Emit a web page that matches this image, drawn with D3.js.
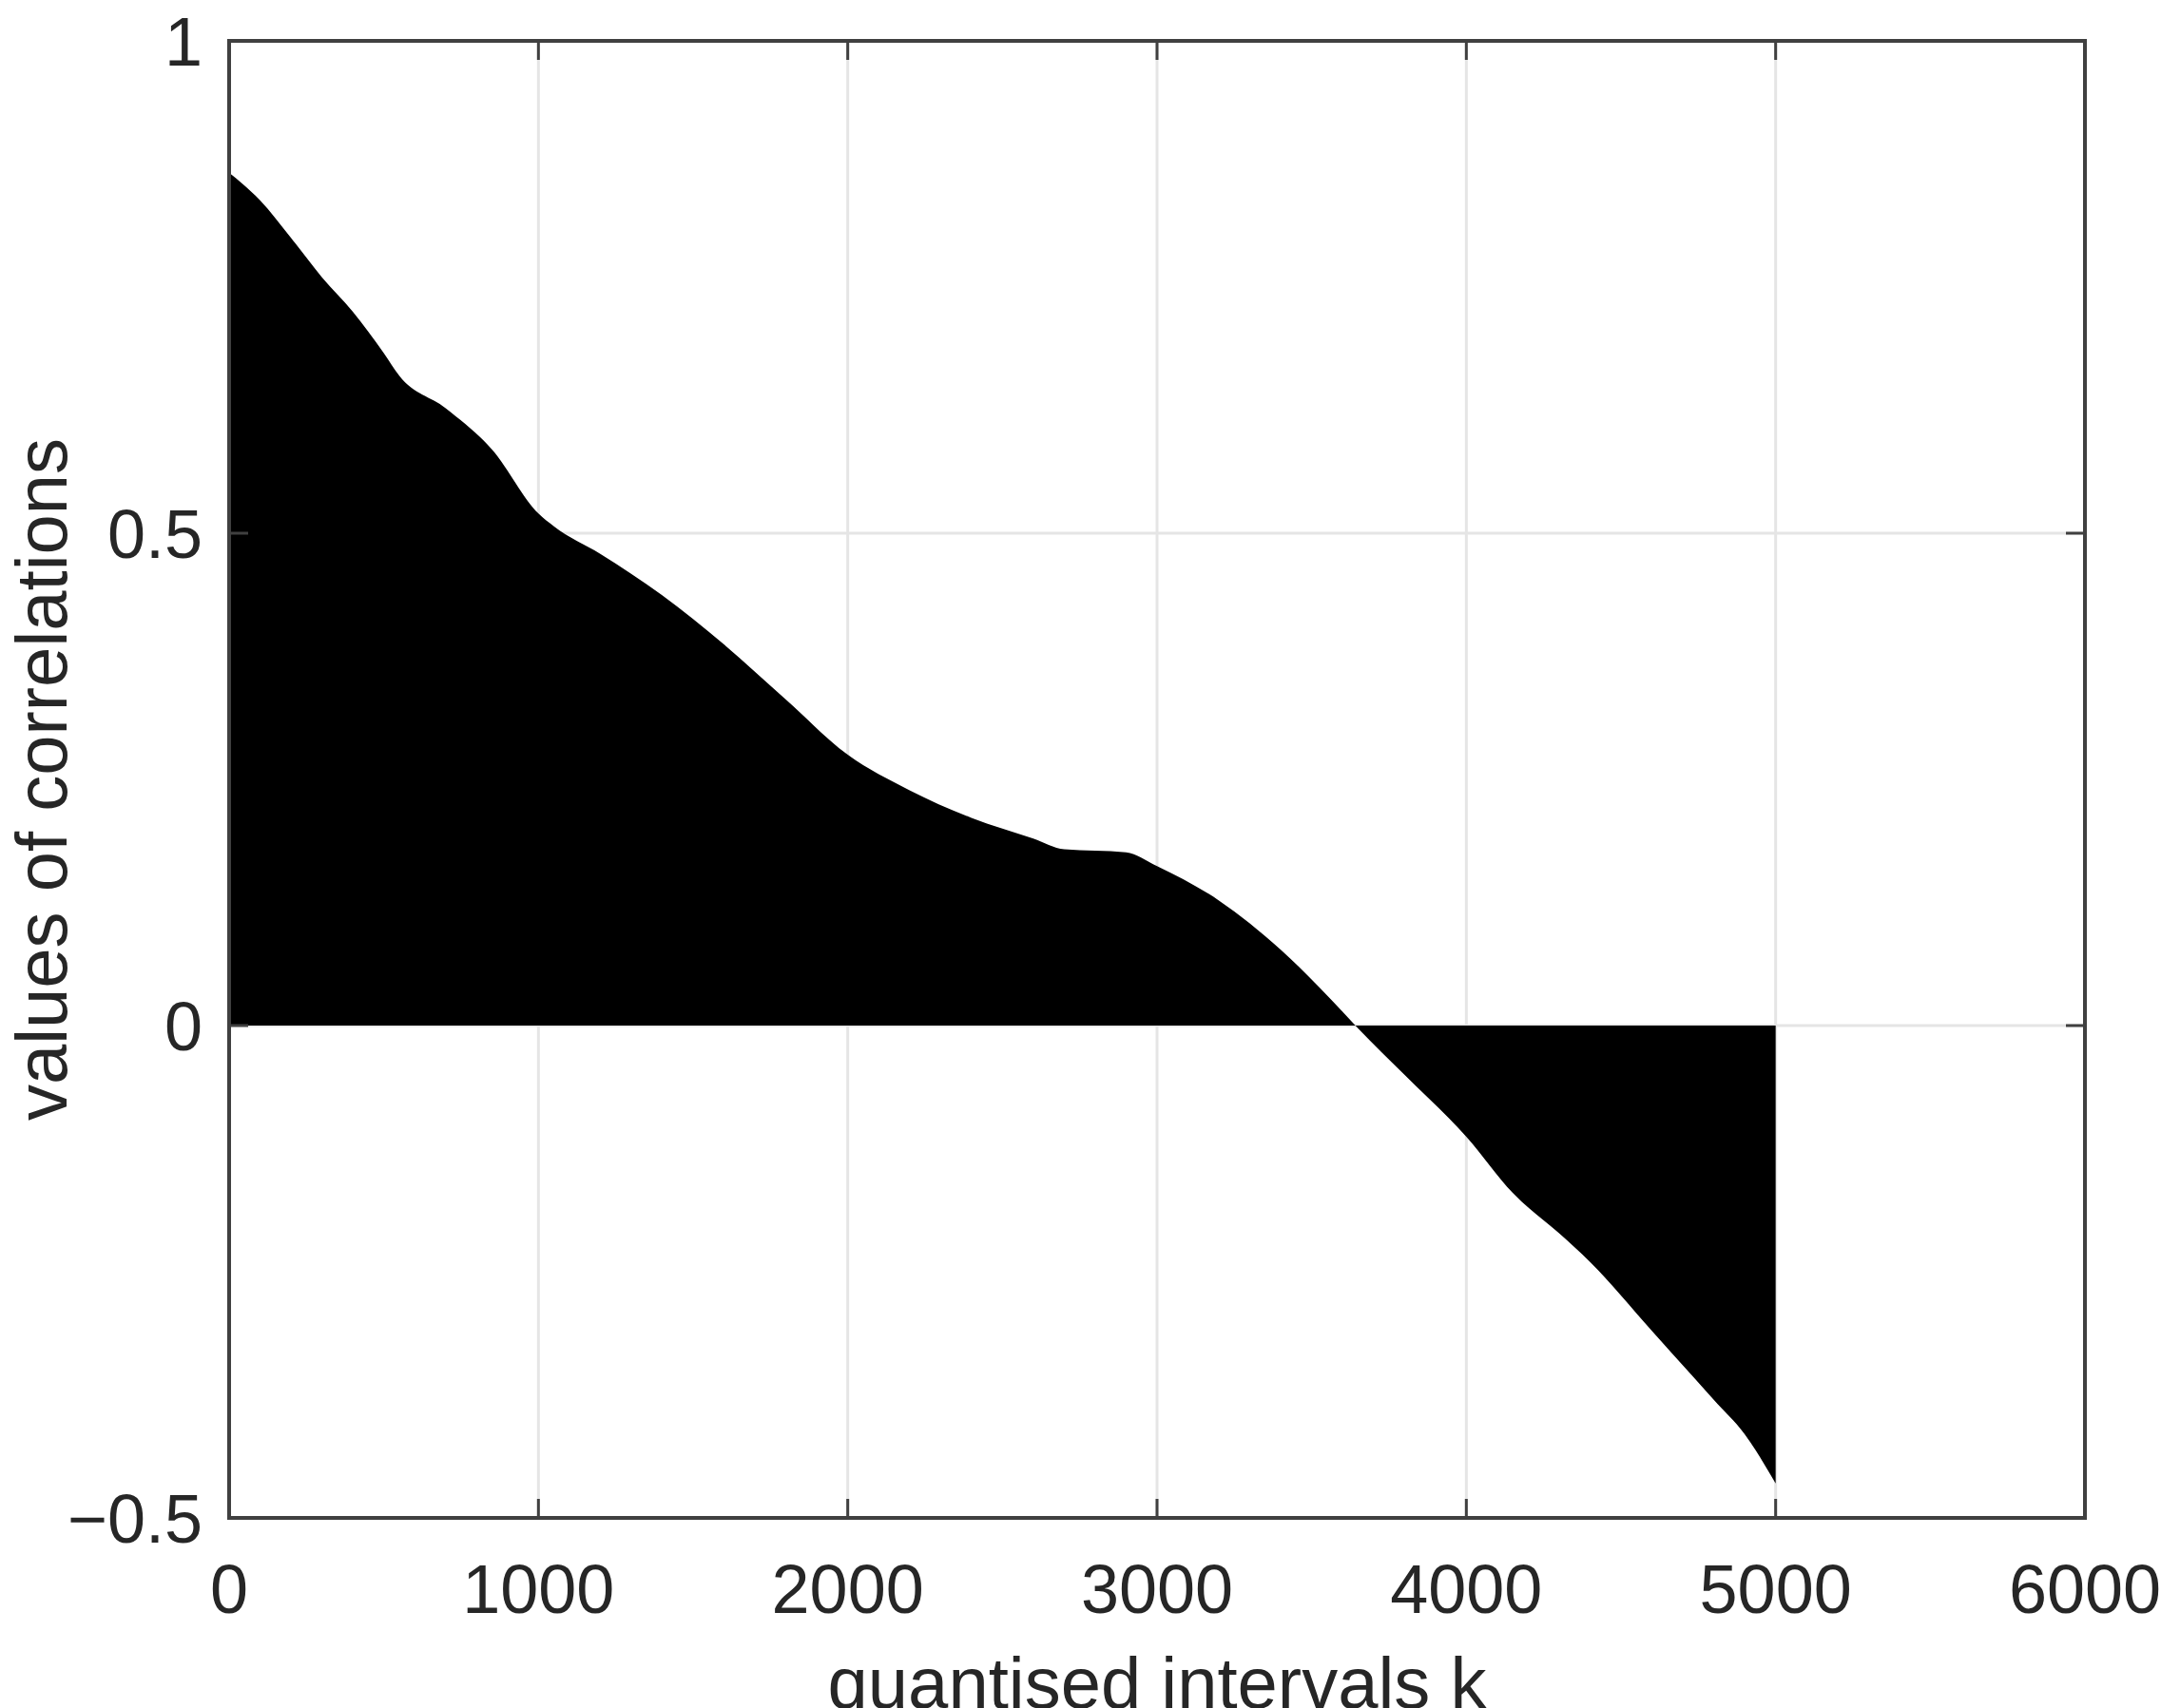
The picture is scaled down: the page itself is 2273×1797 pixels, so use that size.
<!DOCTYPE html>
<meta charset="utf-8">
<style>
    body { margin: 0; background: #fff; }
    text { font-family: "Liberation Sans", Arial, sans-serif; fill: #262626; }
</style>
<svg width="2273" height="1797"></svg>
<script src="https://d3js.org/d3.v7.min.js"></script>
<script>
    var kValues = [0, 100, 200, 300, 400, 500, 550, 700, 850, 1000, 1050, 1200, 1400, 1600, 1800, 2000, 2200, 2400, 2600, 2700, 2900, 3000, 3200, 3400, 3600, 3650, 3800, 4000, 4150, 4300, 4400, 4600, 4800, 4900, 5000];
    var corrValues = [0.866, 0.838, 0.80, 0.76, 0.725, 0.683, 0.66, 0.627, 0.585, 0.52, 0.507, 0.479, 0.437, 0.387, 0.331, 0.275, 0.239, 0.211, 0.19, 0.179, 0.176, 0.162, 0.127, 0.077, 0.014, -0.003, -0.05, -0.113, -0.17, -0.211, -0.24, -0.31, -0.38, -0.415, -0.465];
    var xTicks = [0, 1000, 2000, 3000, 4000, 5000, 6000];
    var yTicks = [-0.5, 0, 0.5, 1];

    var svg = d3.select("svg");
    var pl = 241, pr = 2193, pt = 43, pb = 1597;

    var x = d3.scaleLinear().domain([0, 6000]).range([pl, pr]);
    var y = d3.scaleLinear().domain([-0.5, 1]).range([pb, pt]);

    var data = kValues.map(function (k, i) { return {k: k, v: corrValues[i]}; });

    // grid
    svg.append("g").selectAll("line").data(xTicks).enter().append("line")
        .attr("x1", x).attr("x2", x).attr("y1", pt).attr("y2", pb)
        .attr("stroke", "#e5e5e5").attr("stroke-width", 3);
    svg.append("g").selectAll("line").data(yTicks).enter().append("line")
        .attr("y1", y).attr("y2", y).attr("x1", pl).attr("x2", pr)
        .attr("stroke", "#e5e5e5").attr("stroke-width", 3);

    svg.append("path")
        .datum(data)
        .attr("fill", "#000")
        .attr("d", d3.area()
            .x(function (d) { return x(d.k); })
            .y0(y(0))
            .y1(function (d) { return y(d.v); })
            .curve(d3.curveMonotoneX));

    // ticks (inside, both sides)
    var tl = 20;
    var tk = svg.append("g").attr("stroke", "#404040").attr("stroke-width", 3);
    xTicks.forEach(function (t) {
        tk.append("line").attr("x1", x(t)).attr("x2", x(t)).attr("y1", pb).attr("y2", pb - tl);
        tk.append("line").attr("x1", x(t)).attr("x2", x(t)).attr("y1", pt).attr("y2", pt + tl);
    });
    yTicks.forEach(function (t) {
        tk.append("line").attr("y1", y(t)).attr("y2", y(t)).attr("x1", pl).attr("x2", pl + tl);
        tk.append("line").attr("y1", y(t)).attr("y2", y(t)).attr("x1", pr).attr("x2", pr - tl);
    });

    svg.append("rect")
        .attr("x", pl).attr("y", pt).attr("width", pr - pl).attr("height", pb - pt)
        .attr("fill", "none").attr("stroke", "#404040").attr("stroke-width", 4);

    svg.append("g").selectAll("text").data(xTicks).enter().append("text")
        .attr("x", x).attr("y", pb + 100)
        .attr("text-anchor", "middle").attr("font-size", 72)
        .text(function (d) { return d; });
    svg.append("g").selectAll("text").data(yTicks).enter().append("text")
        .attr("x", pl - 28).attr("y", function (d) { return y(d) + 26; })
        .attr("text-anchor", "end").attr("font-size", 72)
        .text(function (d) { return d < 0 ? "\u2212" + Math.abs(d) : d; });

    svg.append("text")
        .attr("x", (pl + pr) / 2).attr("y", pb + 200)
        .attr("text-anchor", "middle").attr("font-size", 76)
        .text("quantised intervals k");
    svg.append("text")
        .attr("transform", "translate(70," + ((pt + pb) / 2) + ") rotate(-90)")
        .attr("text-anchor", "middle").attr("font-size", 76)
        .text("values of correlations");
</script>
